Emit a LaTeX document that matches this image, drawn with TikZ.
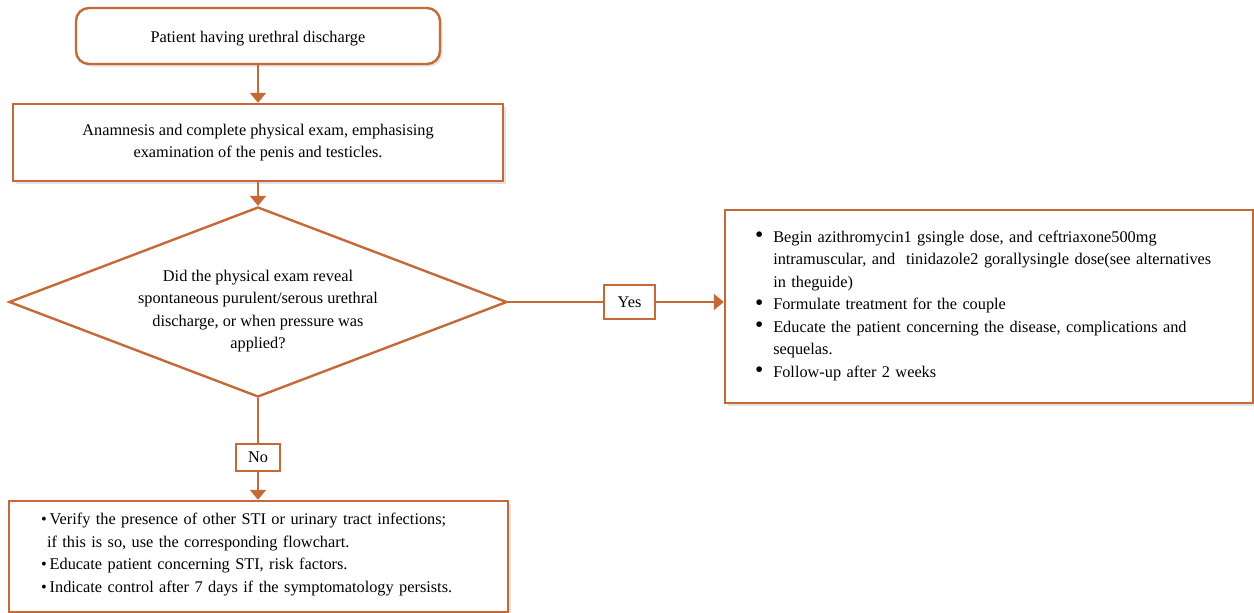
\documentclass[tikz,border=0pt]{standalone}
\usepackage{fontspec}
\setmainfont{Liberation Serif}
\usetikzlibrary{shapes.geometric,arrows.meta,shadows}
\definecolor{flow}{RGB}{197,106,55}
\newcommand{\bigbul}{\raisebox{-0.6pt}{\scalebox{1.45}{•}}}
\begin{document}
\begin{tikzpicture}[x=1pt,y=-1pt,
  every node/.style={font=\fontsize{16.3}{22.5}\selectfont, text=black},
  box/.style={draw=flow, line width=2.4pt, fill=white, inner sep=0pt,
    drop shadow={shadow xshift=2.5pt, shadow yshift=-2.5pt, opacity=0.22}},
  tag/.style={draw=flow, line width=2.2pt, fill=white, inner sep=0pt},
  conn/.style={draw=flow, line width=2.4pt},
  arr/.style={conn, -{Triangle[width=16pt,length=10pt]}}
]
\useasboundingbox (0,0) rectangle (1254,613);

\node[box, rounded corners=13pt, minimum width=364pt, minimum height=56pt] (start) at (258,36)
  {\raisebox{-3pt}[\height][\depth]{Patient having urethral discharge}};
\node[box, minimum width=490pt, minimum height=77pt, align=center] (exam) at (258,142.5)
  {Anamnesis and complete physical exam, emphasising\\examination of the penis and testicles.};
\node[draw=flow, line width=2.4pt, fill=white, diamond, shape aspect=2.6, inner sep=0pt,
  minimum width=498pt, minimum height=190pt] (q) at (258,302) {};
\node[align=center, inner sep=0pt] (qt) at (258,311)
  {Did the physical exam reveal\\spontaneous purulent/serous urethral\\discharge, or when pressure was\\applied?};
\node[tag, minimum width=51pt, minimum height=34pt] (yes) at (629.5,302) {Yes};
\node[tag, minimum width=44pt, minimum height=27pt] (no) at (258,457.5) {No};

\node[box, minimum width=528pt, minimum height=193pt, text width=468pt, inner xsep=30pt, align=left] (treat) at (989,306.5)
  {\noindent\raisebox{1.5pt}[\height][\depth]{\begin{tabular}{@{}l@{\hspace{10pt}}l@{}}
  \bigbul & Begin azithromycin1 gsingle dose, and ceftriaxone500mg\\
    & intramuscular, and\ \ tinidazole2 gorallysingle dose(see alternatives\\
    & in theguide)\\
  \bigbul & Formulate treatment for the couple\\
  \bigbul & Educate the patient concerning the disease, complications and\\
    & sequelas.\\
  \bigbul & Follow-up after 2 weeks
  \end{tabular}}};

\node[box, minimum width=499pt, minimum height=111pt, text width=435pt, inner xsep=32pt, align=left] (other) at (258.5,556.5)
  {\noindent\raisebox{2.5pt}[\height][\depth]{\begin{tabular}{@{}l@{}}
  •\hspace{3pt}Verify the presence of other STI or urinary tract infections;\\
  \hspace{6pt}if this is so, use the corresponding flowchart.\\
  •\hspace{3pt}Educate patient concerning STI, risk factors.\\
  •\hspace{3pt}Indicate control after 7 days if the symptomatology persists.
  \end{tabular}}};

\draw[arr] (start.south) -- (exam.north);
\draw[arr] (exam.south) -- (q.north);
\draw[conn] (q.east) -- (yes.west);
\draw[arr] (yes.east) -- (yes.east -| treat.west);
\draw[conn] (q.south) -- (no.north);
\draw[arr] (no.south) -- (no.south |- other.north);
\end{tikzpicture}
\end{document}
